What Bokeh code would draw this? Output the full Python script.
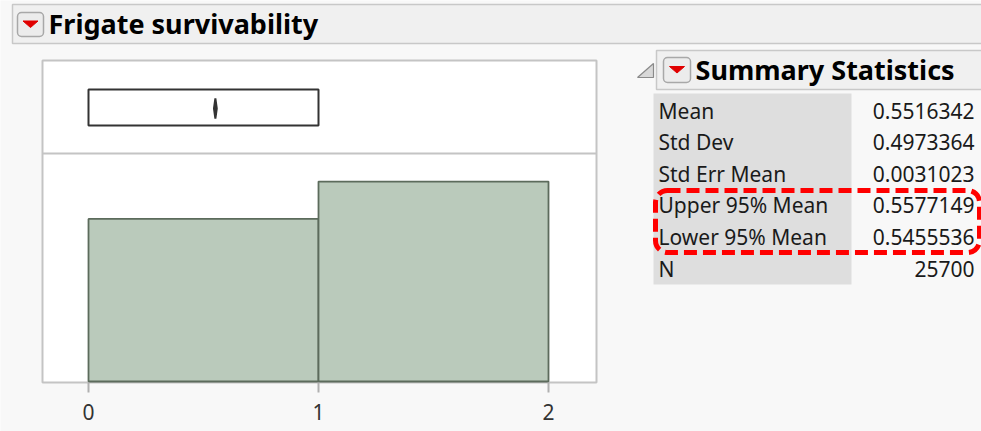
from bokeh.plotting import figure
from bokeh.models import Range1d
from bokeh.core.properties import value
from bokeh.embed import file_html
from bokeh.resources import INLINE

# ---------------- data ----------------
title_text = "Frigate survivability"
stats_title = "Summary Statistics"
bin_left = [0, 1]
bin_right = [1, 2]
bin_counts = [11524, 14176]
box_q1 = 0
box_q3 = 1
mean_val = 0.5516342
upper_ci = 0.5577149
lower_ci = 0.5455536
tick_values = [0, 1, 2]
tick_labels = ["0", "1", "2"]
stat_labels = ["Mean", "Std Dev", "Std Err Mean", "Upper 95% Mean", "Lower 95% Mean", "N"]
stat_values = ["0.5516342", "0.4973364", "0.0031023", "0.5577149", "0.5455536", "25700"]

# ---------------- canvas ----------------
W, H = 981, 431
OFF = 0
FONT = value("Noto Sans")


def X(px):
    return px - OFF


def Y(py):
    return py - OFF


p = figure(width=W, height=H, x_range=Range1d(0, W), y_range=Range1d(H, 0),
           min_border=0, output_backend="svg", toolbar_location=None)
p.axis.visible = False
p.grid.visible = False
p.outline_line_color = None
p.background_fill_color = "#f8f8f8"
p.border_fill_color = "#f8f8f8"

# histogram scales: value axis and count axis placed inside the canvas
PX_PER_UNIT = 230.0
X0_PAGE = 88
BASE_PAGE = 381
COUNTS_PER_PX = 70.9
p.extra_x_ranges = {"hx": Range1d((OFF - X0_PAGE) / PX_PER_UNIT, (OFF + W - X0_PAGE) / PX_PER_UNIT)}
p.extra_y_ranges = {"hy": Range1d(-(OFF + H - BASE_PAGE) * COUNTS_PER_PX, (BASE_PAGE - OFF) * COUNTS_PER_PX)}

# ---------------- top header ----------------
p.quad(left=[X(12)], right=[X(1000)], top=[Y(4)], bottom=[Y(43)],
       fill_color="#f0f0f0", line_color="#c8c8c8", line_width=1.5)
p.quad(left=[X(17)], right=[X(43)], top=[Y(12)], bottom=[Y(36)], border_radius=4,
       fill_color="#ececec", line_color="#a8a8a8", line_width=1.5)
p.patch(x=[X(22.5), X(37.5), X(30)], y=[Y(20.5), Y(20.5), Y(27)], fill_color="#e00000", line_color="#e00000")
p.text(x=[X(48)], y=[Y(23)], text=[title_text], text_font=FONT, text_font_style="bold",
       text_font_size="27px", text_color="#000000", text_baseline="middle", text_align="left")

# ---------------- plot frame ----------------
p.quad(left=[X(42)], right=[X(596)], top=[Y(60)], bottom=[Y(382)],
       fill_color="#ffffff", line_color="#c4c4c4", line_width=2)
p.segment(x0=[X(42)], x1=[X(596)], y0=[Y(153)], y1=[Y(153)], line_color="#c4c4c4", line_width=2)

# histogram bars
p.quad(left=bin_left, right=bin_right, bottom=0, top=bin_counts,
       x_range_name="hx", y_range_name="hy",
       fill_color="#bacabb", line_color="#5c6b5c", line_width=1.8)

# box plot
p.quad(left=[box_q1], right=[box_q3], top=[Y(89)], bottom=[Y(125)], x_range_name="hx",
       fill_color="#ffffff", line_color="#333333", line_width=2)
p.patch(x=[lower_ci, mean_val, upper_ci, mean_val], y=[Y(108), Y(98), Y(108), Y(118)],
        x_range_name="hx", fill_color="#333333", line_color="#333333", line_width=2)

# axis ticks and labels
p.segment(x0=tick_values, x1=tick_values, y0=Y(382), y1=Y(392), x_range_name="hx",
          line_color="#b0b0b0", line_width=2)
p.text(x=tick_values, y=Y(411), text=tick_labels, x_range_name="hx", text_font=FONT,
       text_font_size="21px", text_color="#333333", text_align="center", text_baseline="middle")

# ---------------- summary statistics ----------------
p.patch(x=[X(637), X(653), X(653)], y=[Y(77), Y(63), Y(77)], fill_color="#d8d8d8",
        line_color="#8a8a8a", line_width=1.2)
p.quad(left=[X(656)], right=[X(1000)], top=[Y(50)], bottom=[Y(89)],
       fill_color="#f0f0f0", line_color="#c8c8c8", line_width=1.5)
p.quad(left=[X(663)], right=[X(690)], top=[Y(57)], bottom=[Y(82)], border_radius=4,
       fill_color="#ececec", line_color="#a8a8a8", line_width=1.5)
p.patch(x=[X(669), X(684), X(676.5)], y=[Y(66), Y(66), Y(72.5)], fill_color="#e00000", line_color="#e00000")
p.text(x=[X(695)], y=[Y(69)], text=[stats_title], text_font=FONT, text_font_style="bold",
       text_font_size="27px", text_color="#000000", text_baseline="middle", text_align="left")

p.quad(left=[X(653)], right=[X(851)], top=[Y(93)], bottom=[Y(284)],
       fill_color="#dedede", line_color=None)
ROW0 = 110
ROW_H = 31.6
row_y = [Y(ROW0 + i * ROW_H) for i in range(len(stat_labels))]
p.text(x=X(658), y=row_y, text=stat_labels, text_font=FONT, text_font_size="21px",
       text_color="#1a1a1a", text_baseline="middle", text_align="left")
p.text(x=X(974), y=row_y, text=stat_values, text_font=FONT, text_font_size="21px",
       text_color="#1a1a1a", text_baseline="middle", text_align="right")

# red dashed highlight
p.quad(left=[X(655)], right=[X(979)], top=[Y(190)], bottom=[Y(252)], border_radius=12,
       fill_color=None, line_color="#ff0000", line_width=5, line_dash="13 6")

open("out.html", "w").write(file_html(p, INLINE))
